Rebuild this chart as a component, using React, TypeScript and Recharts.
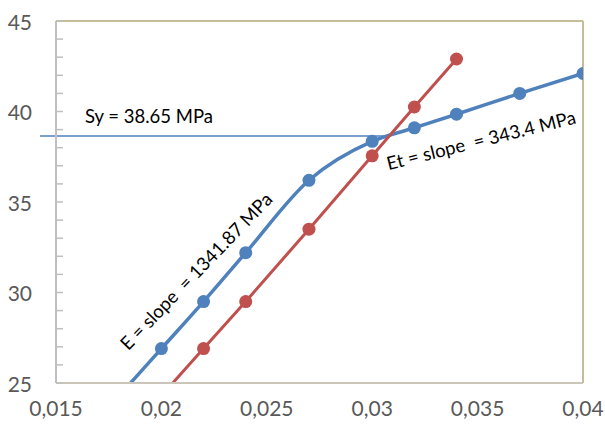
import { ComposedChart, Line, ReferenceDot, ReferenceLine, XAxis, YAxis } from 'recharts';

// Blue curve (strain vs stress), first point only extends the line below the axis
const blueX = [0.018, 0.02, 0.022, 0.024, 0.027, 0.03, 0.032, 0.034, 0.037, 0.04];
const blueY = [24.3, 26.9, 29.5, 32.2, 36.2, 38.35, 39.1, 39.85, 41.0, 42.1];

// Red offset line, first point only extends the line below the axis
const redX = [0.02, 0.022, 0.024, 0.027, 0.03, 0.032, 0.034];
const redY = [24.3, 26.9, 29.5, 33.5, 37.55, 40.25, 42.9];

const xTicks = [0.015, 0.02, 0.025, 0.03, 0.035, 0.04];
const yTicks = [25, 26, 27, 28, 29, 30, 31, 32, 33, 34, 35, 36, 37, 38, 39, 40, 41, 42, 43, 44, 45];

const syValue = 38.65;
const syStart = 0.01424;
const syEnd = 0.0307;

const labels = [
  { text: 'Sy = 38.65 MPa', x: 0.01941, y: 39.75, angle: 0 },
  { text: 'E = slope  = 1341.87 MPa', x: 0.02164, y: 31.19, angle: -46 },
  { text: 'Et = slope  = 343.4 MPa', x: 0.03516, y: 38.43, angle: -14 },
];

const BLUE = '#4f81bd';
const RED = '#c0504d';
const FONT = 'Lato, "Noto Sans", sans-serif';

const blueData = blueX.map((x, i) => ({ x, y: blueY[i], marker: i > 0 }));
const redData = redX.map((x, i) => ({ x, y: redY[i], marker: i > 0 }));

function Dot(color: string) {
  return (props: any) => {
    const { cx, cy, payload, index } = props;
    if (!payload.marker) return <g key={index} />;
    return <circle key={index} cx={cx} cy={cy} r={6.5} fill={color} stroke="none" />;
  };
}

function YTick({ x, y, payload }: any) {
  const v = payload.value;
  return (
    <g>
      <line x1={x + 24} x2={x + 31} y1={y} y2={y} stroke="#bfbfbf" strokeWidth={1.5} />
      {v % 5 === 0 && (
        <text x={x} y={y} textAnchor="end" dominantBaseline="central" fontSize={21} fill="#595959" fontFamily={FONT}>
          {v}
        </text>
      )}
    </g>
  );
}

function RotLabel(text: string, angle: number) {
  return (props: any) => {
    const { viewBox } = props;
    const cx = viewBox.x + viewBox.width / 2;
    const cy = viewBox.y + viewBox.height / 2;
    return (
      <text
        x={cx}
        y={cy}
        textAnchor="middle"
        dominantBaseline="central"
        transform={`rotate(${angle} ${cx} ${cy})`}
        fontSize={18.5}
        fill="#000"
        fontFamily={FONT}
        style={{ whiteSpace: 'pre' }}
      >
        {text}
      </text>
    );
  };
}

export default function App() {
  return (
    <div style={{ position: 'absolute', left: 0, top: 0 }}>
      <ComposedChart width={605} height={426} margin={{ top: 21, right: 22, bottom: 0, left: 0 }}>
        <XAxis
          type="number"
          dataKey="x"
          domain={[0.015, 0.04]}
          ticks={xTicks}
          interval={0}
          allowDataOverflow
          height={43}
          tickLine={false}
          tickSize={0}
          tickMargin={18}
          axisLine={{ stroke: '#cac6ba', strokeWidth: 2 }}
          tick={{ fontSize: 21, fill: '#595959', fontFamily: FONT }}
          tickFormatter={(v: number) => String(v).replace('.', ',')}
        />
        <YAxis
          type="number"
          dataKey="y"
          domain={[25, 45]}
          ticks={yTicks}
          interval={0}
          allowDataOverflow
          width={56}
          tickLine={false}
          tickSize={0}
          tickMargin={24}
          axisLine={{ stroke: '#bfbfbf', strokeWidth: 2 }}
          tick={<YTick />}
        />
        <ReferenceLine y={45} stroke="#c4bd97" strokeWidth={2} />
        <ReferenceLine x={0.04} stroke="#c4bd97" strokeWidth={2} />
        <ReferenceLine
          segment={[{ x: syStart, y: syValue }, { x: syEnd, y: syValue }]}
          stroke={BLUE}
          strokeWidth={1.5}
          ifOverflow="visible"
        />
        <Line
          data={blueData}
          dataKey="y"
          type="monotone"
          stroke={BLUE}
          strokeWidth={3.5}
          dot={Dot(BLUE)}
          activeDot={false}
          isAnimationActive={false}
        />
        <Line
          data={redData}
          dataKey="y"
          type="linear"
          stroke={RED}
          strokeWidth={3}
          dot={Dot(RED)}
          activeDot={false}
          isAnimationActive={false}
        />
        {labels.map((l, i) => (
          <ReferenceDot key={i} x={l.x} y={l.y} r={0} stroke="none" fill="none" ifOverflow="visible" label={RotLabel(l.text, l.angle)} />
        ))}
      </ComposedChart>
    </div>
  );
}
